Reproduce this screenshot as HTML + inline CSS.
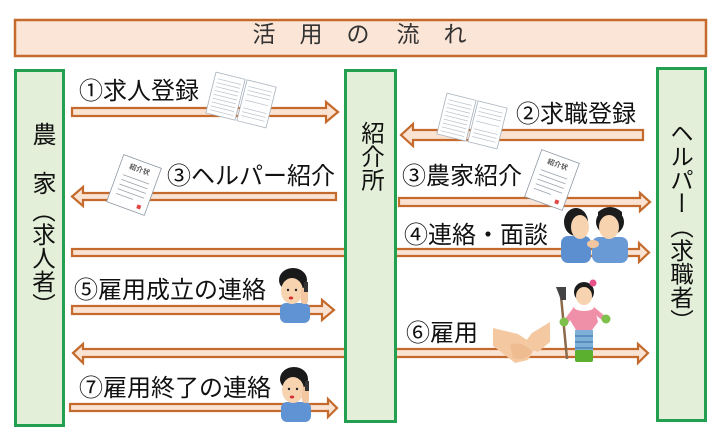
<!DOCTYPE html>
<html><head><meta charset="utf-8">
<style>
html,body{margin:0;padding:0;background:#fff;}
#wrap{position:relative;width:720px;height:440px;overflow:hidden;background:#fff;font-family:"Liberation Sans","Noto Sans CJK JP",sans-serif;color:#111;}
svg{position:absolute;left:0;top:0;}
.t{position:absolute;font-size:24px;line-height:24px;white-space:nowrap;}
.h{position:absolute;font-size:23px;line-height:23px;width:23px;text-align:center;color:#333;}
.v{position:absolute;writing-mode:vertical-rl;font-size:24px;line-height:24px;width:24px;white-space:nowrap;}
</style></head>
<body><div id="wrap">
<svg width="720" height="440" viewBox="0 0 720 440">
<defs>
<g id="doc">
 <rect x="-31" y="-21" width="30" height="42" fill="#fff" stroke="#a8b2bd" stroke-width="0.8"/>
 <rect x="1" y="-21" width="30" height="42" fill="#fff" stroke="#a8b2bd" stroke-width="0.8"/>
 <g stroke="#b8c1ca" stroke-width="0.7">
  <line x1="-28" y1="-15" x2="-4" y2="-15"/><line x1="-28" y1="-11" x2="-4" y2="-11"/>
  <line x1="-28" y1="-7" x2="-4" y2="-7"/><line x1="-28" y1="-3" x2="-4" y2="-3"/>
  <line x1="-28" y1="1" x2="-4" y2="1"/><line x1="-28" y1="5" x2="-4" y2="5"/>
  <line x1="-28" y1="9" x2="-4" y2="9"/><line x1="-28" y1="13" x2="-4" y2="13"/>
  <line x1="-28" y1="17" x2="-4" y2="17"/>
  <line x1="4" y1="-15" x2="28" y2="-15"/><line x1="4" y1="-11" x2="28" y2="-11"/>
  <line x1="4" y1="-7" x2="28" y2="-7"/><line x1="4" y1="-1" x2="28" y2="-1"/>
  <line x1="4" y1="7" x2="28" y2="7"/><line x1="4" y1="11" x2="28" y2="11"/>
  <line x1="4" y1="15" x2="28" y2="15"/>
 </g>
</g>
<g id="letter">
 <rect x="-20" y="-25" width="40" height="50" fill="#fff" stroke="#8d98a4" stroke-width="0.8"/>
 <text x="0" y="-14" font-size="7" text-anchor="middle" fill="#555" font-weight="bold" font-family="Noto Sans CJK JP, sans-serif">紹介状</text>
 <g stroke="#9aa3ad" stroke-width="0.8">
  <line x1="-14" y1="-6" x2="14" y2="-6"/><line x1="-14" y1="-1" x2="14" y2="-1"/>
  <line x1="-14" y1="4" x2="14" y2="4"/><line x1="-14" y1="9" x2="14" y2="9"/>
  <line x1="-14" y1="14" x2="4" y2="14"/>
 </g>
 <rect x="10" y="17" width="4" height="4" fill="#e04848"/>
</g>
<g id="phone">
 <rect x="2" y="37" width="30" height="20" rx="6" fill="#5f93d3"/>
 <ellipse cx="15" cy="14" rx="14" ry="12" fill="#1a1a1a"/>
 <ellipse cx="14" cy="25" rx="11" ry="13" fill="#f7d3b0"/>
 <path d="M3 16 Q14 6 26 14 L26 10 Q14 0 3 10 Z" fill="#1a1a1a"/>
 <circle cx="10" cy="24" r="1.2" fill="#222"/><circle cx="18" cy="24" r="1.2" fill="#222"/>
 <ellipse cx="13" cy="32" rx="2.2" ry="1.5" fill="#d83030"/>
 <rect x="23" y="22" width="7" height="16" rx="3" fill="#f2c6a0"/>
 <rect x="26" y="16" width="4" height="10" fill="#333"/>
</g>
</defs>

<!-- title -->
<rect x="15" y="20" width="691" height="36" fill="#fbe5d6" stroke="#c46a2c" stroke-width="2.5"/>

<!-- arrows -->
<g fill="#fbe3d3" stroke="#c46a2c" stroke-width="2.2" stroke-linejoin="miter">
 <polygon points="72,108 326,108 326,102 338,112 326,122 326,116 72,116"/>
 <polygon points="643,130 413,130 413,124 401,135 413,146 413,140 643,140"/>
 <polygon points="336,193 83,193 83,187 72,196.5 83,206 83,200 336,200"/>
 <polygon points="399,198 640,198 640,193 650,202 640,211 640,206 399,206"/>
 <polygon points="72,249 639,249 639,243 649,252.5 639,262 639,256 72,256"/>
 <polygon points="72,306 322,306 322,300 334,310 322,320 322,314 72,314"/>
 <polygon points="73,353 83,344 83,349 638,349 638,344 648,353 638,363 638,357 83,357 83,363"/>
 <polygon points="70,404 328,404 328,399 337,408 328,417 328,411 70,411"/>
</g>

<!-- boxes -->
<rect x="15.5" y="70.5" width="48" height="355" fill="#e3efd9" stroke="#22a050" stroke-width="3"/>
<rect x="345.5" y="70.5" width="50" height="351" fill="#e3efd9" stroke="#22a050" stroke-width="3"/>
<rect x="657.5" y="68.5" width="48" height="352" fill="#e3efd9" stroke="#22a050" stroke-width="3"/>

<!-- documents -->
<use href="#doc" transform="translate(241,100) rotate(14)"/>
<use href="#doc" transform="translate(472,121) rotate(14)"/>
<use href="#letter" transform="translate(134,185) rotate(20)"/>
<use href="#letter" transform="translate(552,180) rotate(20)"/>

<!-- meeting people -->
<g>
 <rect x="561" y="236" width="30" height="27" rx="7" fill="#5b8fd0"/>
 <ellipse cx="576" cy="222" rx="12" ry="14" fill="#1c1c1c"/>
 <ellipse cx="580" cy="227" rx="9" ry="12" fill="#f7d3b0"/>
 <rect x="592" y="237" width="36" height="26" rx="7" fill="#6a9ad6"/>
 <ellipse cx="610" cy="222" rx="14" ry="13" fill="#1c1c1c"/>
 <ellipse cx="609" cy="227" rx="10" ry="12" fill="#f7d3b0"/>
 <path d="M598 218 Q610 206 622 218 L622 212 Q610 202 598 212Z" fill="#1c1c1c"/>
 <ellipse cx="593" cy="244" rx="6" ry="4" fill="#f2c6a0"/>
</g>

<!-- handshake -->
<g fill="#f4c9a2">
 <polygon points="493,328 518,334 536,346 528,360 515,363 505,355 493,346"/>
 <polygon points="550,322 550,342 538,352 522,346 532,333"/>
 <path d="M510 345 Q522 340 532 352 Q525 362 513 358Z" fill="#efbb90"/>
</g>

<!-- farmer girl -->
<g>
 <line x1="561" y1="296" x2="567" y2="359" stroke="#8a6a4a" stroke-width="2.5"/>
 <polygon points="556,287 566,287 566,300 561,300" fill="#444"/>
 <rect x="575" y="330" width="18" height="22" fill="#7fb0d8"/>
 <line x1="575" y1="336" x2="593" y2="336" stroke="#4f86b8" stroke-width="1.5"/>
 <line x1="575" y1="342" x2="593" y2="342" stroke="#4f86b8" stroke-width="1.5"/>
 <line x1="575" y1="348" x2="593" y2="348" stroke="#4f86b8" stroke-width="1.5"/>
 <rect x="575" y="350" width="18" height="12" rx="2" fill="#5cb030"/>
 <polygon points="574,306 594,306 598,322 592,330 576,330 570,320" fill="#f08fa8"/>
 <polygon points="574,307 564,320 568,323 576,312" fill="#f08fa8"/>
 <polygon points="594,307 606,317 603,321 592,312" fill="#f08fa8"/>
 <circle cx="564" cy="322" r="4.5" fill="#7dc04a"/>
 <circle cx="606" cy="319" r="4.5" fill="#7dc04a"/>
 <ellipse cx="584" cy="307" rx="10" ry="4" fill="#fff"/>
 <ellipse cx="584" cy="292" rx="10" ry="10" fill="#1c1c1c"/>
 <ellipse cx="584" cy="296" rx="8" ry="9" fill="#f7d3b0"/>
 <circle cx="593" cy="283" r="3.5" fill="#e8508a"/>
</g>

<!-- phone people -->
<use href="#phone" transform="translate(278,266)"/>
<use href="#phone" transform="translate(279,365)"/>
</svg>

<!-- title text -->
<div class="h" style="left:252.5px;top:23px;">活</div>
<div class="h" style="left:299.5px;top:23px;">用</div>
<div class="h" style="left:346.5px;top:23px;">の</div>
<div class="h" style="left:396.5px;top:23px;">流</div>
<div class="h" style="left:443.5px;top:23px;">れ</div>

<!-- box texts -->
<div class="v" style="left:29px;top:122px;">農</div>
<div class="v" style="left:29px;top:171px;">家</div>
<div class="v" style="left:30px;top:199px;font-size:23.5px;">（求人者）</div>
<div class="v" style="left:359px;top:121px;font-size:23.5px;">紹介所</div>
<div class="v" style="left:668px;top:121px;font-size:23.5px;">ヘルパー（求職者）</div>

<!-- arrow labels -->
<div class="t" style="left:79px;top:80px;">①求人登録</div>
<div class="t" style="left:167px;top:165px;">③ヘルパー紹介</div>
<div class="t" style="left:516px;top:103px;">②求職登録</div>
<div class="t" style="left:402px;top:165px;">③農家紹介</div>
<div class="t" style="left:404px;top:224px;">④連絡・面談</div>
<div class="t" style="left:74px;top:279px;">⑤雇用成立の連絡</div>
<div class="t" style="left:406px;top:322px;">⑥雇用</div>
<div class="t" style="left:79px;top:377px;">⑦雇用終了の連絡</div>
</div></body></html>
